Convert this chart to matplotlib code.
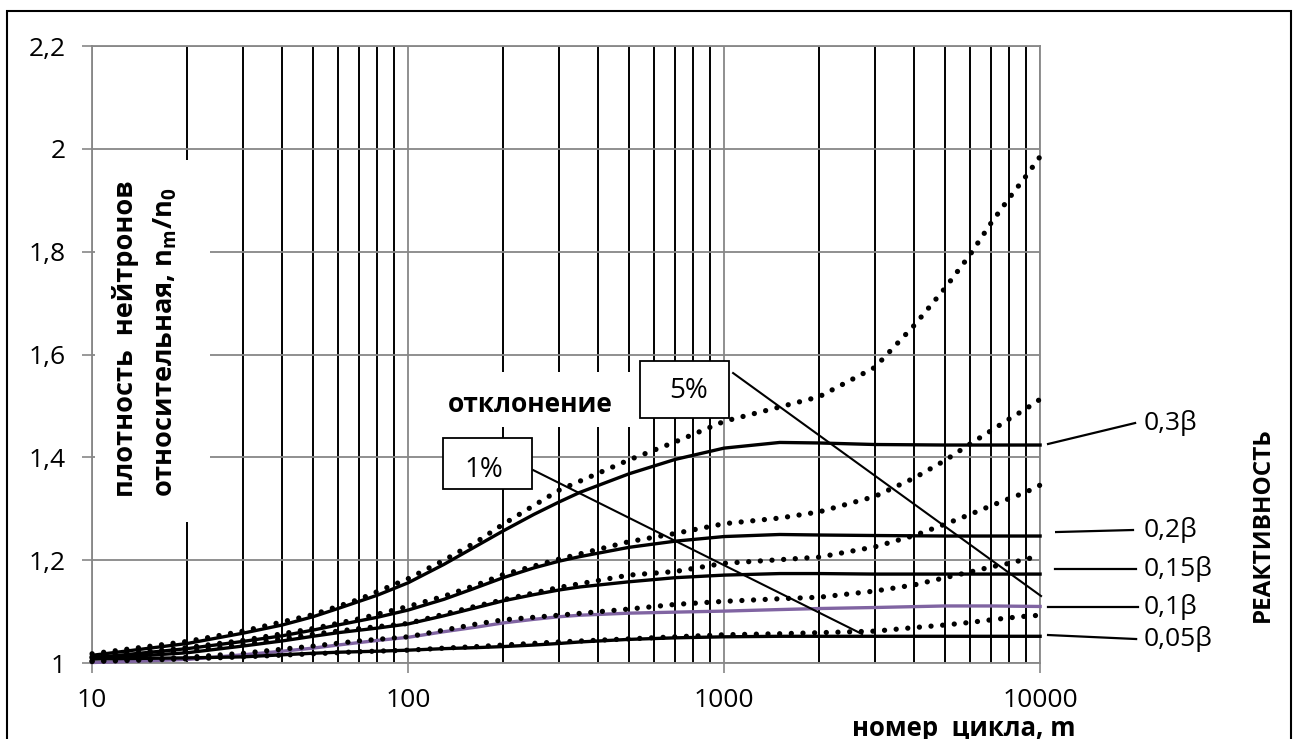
import matplotlib.pyplot as plt
from matplotlib.patches import Rectangle
from matplotlib.ticker import FixedLocator, FixedFormatter, NullFormatter

plt.rcParams['font.family'] = ['Open Sans', 'DejaVu Sans']
plt.rcParams['mathtext.fontset'] = 'custom'
plt.rcParams['mathtext.rm'] = 'Open Sans:bold'
plt.rcParams['mathtext.it'] = 'Open Sans:bold'

# values
cycles_solid = [10, 20, 30, 40, 50, 60, 80, 100, 130, 165, 200, 250, 300, 350, 500, 700,
                1000, 1500, 2000, 3000, 5000, 7000, 10000]
solid_03 = [1.015, 1.038, 1.058, 1.074, 1.090, 1.106, 1.132, 1.156, 1.192, 1.228, 1.257, 1.289,
            1.313, 1.332, 1.368, 1.396, 1.418, 1.429, 1.428, 1.425, 1.424, 1.424, 1.424]
solid_02 = [1.010, 1.028, 1.042, 1.053, 1.064, 1.074, 1.089, 1.103, 1.124, 1.147, 1.166, 1.185,
            1.198, 1.207, 1.225, 1.237, 1.246, 1.250, 1.249, 1.248, 1.247, 1.247, 1.247]
solid_015 = [1.008, 1.020, 1.033, 1.043, 1.052, 1.059, 1.068, 1.076, 1.092, 1.108, 1.121, 1.133,
             1.142, 1.148, 1.158, 1.166, 1.171, 1.174, 1.174, 1.173, 1.173, 1.173, 1.173]
solid_01 = [1.001, 1.007, 1.016, 1.023, 1.029, 1.035, 1.044, 1.050, 1.061, 1.070, 1.078, 1.085,
            1.090, 1.093, 1.097, 1.099, 1.101, 1.104, 1.106, 1.108, 1.111, 1.111, 1.110]
solid_005 = [1.008, 1.010, 1.012, 1.016, 1.019, 1.021, 1.023, 1.025, 1.028, 1.030, 1.032, 1.035,
             1.038, 1.041, 1.046, 1.049, 1.051, 1.052, 1.052, 1.052, 1.052, 1.052, 1.052]

cycles_dot = [10, 20, 30, 50, 70, 100, 130, 165, 200, 300, 500, 700, 1000, 1500, 2000, 3000,
              4000, 5000, 6000, 7000, 8000, 9000, 10000]
dot_03 = [1.018, 1.042, 1.062, 1.094, 1.124, 1.164, 1.200, 1.236, 1.270, 1.336, 1.395, 1.430,
          1.470, 1.498, 1.518, 1.575, 1.657, 1.729, 1.794, 1.856, 1.905, 1.946, 1.985]
dot_02 = [1.012, 1.030, 1.044, 1.067, 1.086, 1.110, 1.130, 1.152, 1.172, 1.202, 1.236, 1.252,
          1.271, 1.282, 1.294, 1.324, 1.360, 1.394, 1.426, 1.452, 1.475, 1.494, 1.513]
dot_015 = [1.010, 1.023, 1.036, 1.056, 1.067, 1.077, 1.095, 1.111, 1.123, 1.147, 1.171, 1.178,
           1.194, 1.201, 1.206, 1.226, 1.248, 1.270, 1.289, 1.306, 1.320, 1.332, 1.346]
dot_01 = [1.004, 1.011, 1.019, 1.033, 1.043, 1.051, 1.064, 1.076, 1.084, 1.093, 1.105, 1.114,
          1.120, 1.125, 1.128, 1.140, 1.152, 1.166, 1.177, 1.187, 1.194, 1.202, 1.208]
dot_005 = [1.003, 1.008, 1.012, 1.018, 1.022, 1.025, 1.029, 1.032, 1.035, 1.041, 1.047, 1.051,
           1.055, 1.057, 1.059, 1.062, 1.069, 1.074, 1.079, 1.084, 1.088, 1.091, 1.093]

x_ticks = [10, 100, 1000, 10000]
x_tick_labels = ['10', '100', '1000', '10000']
y_ticks = [1.0, 1.2, 1.4, 1.6, 1.8, 2.0, 2.2]
y_tick_labels = ['1', '1,2', '1,4', '1,6', '1,8', '2', '2,2']
minor_x = [m * d for d in (10, 100, 1000) for m in range(2, 10)]

react_labels = ['0,3β', '0,2β', '0,15β', '0,1β', '0,05β']

GRAY = '#878787'
PURPLE = '#8064a2'

fig = plt.figure(figsize=(12.93, 7.39), dpi=100)
ax = fig.add_axes([0.0712, 0.1028, 0.7332, 0.8349])
ax.set_xscale('log')
ax.set_xlim(10, 10000)
ax.set_ylim(1.0, 2.2)

ax.xaxis.set_major_locator(FixedLocator(x_ticks))
ax.xaxis.set_major_formatter(FixedFormatter(x_tick_labels))
ax.xaxis.set_minor_locator(FixedLocator(minor_x))
ax.xaxis.set_minor_formatter(NullFormatter())
ax.yaxis.set_major_locator(FixedLocator(y_ticks))
ax.yaxis.set_major_formatter(FixedFormatter(y_tick_labels))

ax.tick_params(which='major', direction='out', length=7, width=1.2, color=GRAY,
               labelsize=19, pad=12)
ax.tick_params(axis='x', which='major', pad=11)
ax.tick_params(which='minor', length=0)
ax.set_axisbelow(True)
ax.grid(which='major', color=GRAY, lw=1.3)
ax.grid(which='minor', axis='x', color='black', lw=1.4)
for sp in ax.spines.values():
    sp.set_color(GRAY)
    sp.set_linewidth(1.3)

# solid curves
for vals, col in [(solid_03, 'black'), (solid_02, 'black'), (solid_015, 'black'),
                  (solid_01, PURPLE), (solid_005, 'black')]:
    ax.plot(cycles_solid, vals, color=col, lw=2.4, zorder=3, clip_on=False)

# dotted curves
for vals in [dot_03, dot_02, dot_015, dot_01, dot_005]:
    ax.plot(cycles_dot, vals, color='black', lw=3.8, ls=(0, (0.01, 2.2)),
            dash_capstyle='round', zorder=4, clip_on=False)

# white areas under the texts inside the plot
ax.add_patch(Rectangle((0.003, 0.2285), 0.1215, 0.5866, transform=ax.transAxes,
                       fc='white', ec='none', zorder=1))
ax.add_patch(Rectangle((0.3565, 0.3825), 0.2215, 0.0891, transform=ax.transAxes,
                       fc='white', ec='none', zorder=1))

ax.text(0.0348, 0.269, 'плотность  нейтронов', rotation=90, transform=ax.transAxes,
        ha='center', va='bottom', fontsize=19.5, fontweight='bold', zorder=5)
ax.text(0.077, 0.269, r'относительная, $\mathrm{n_m/n_0}$', rotation=90,
        transform=ax.transAxes, ha='center', va='bottom', fontsize=19.5,
        fontweight='bold', zorder=5)
ax.text(0.462, 0.4198, 'отклонение', transform=ax.transAxes, ha='center',
        va='center', fontsize=19, fontweight='bold', zorder=5)

# deviation boxes
ax.add_patch(Rectangle((0.3703, 0.282), 0.0938, 0.0827, transform=ax.transAxes,
                       fc='white', ec='black', lw=1.3, zorder=5))
ax.text(0.4135, 0.3128, '1%', transform=ax.transAxes, ha='center', va='center',
        fontsize=20, zorder=6)
ax.plot([0.4652, 0.8122], [0.3128, 0.047], transform=ax.transAxes, color='black',
        lw=1.5, zorder=5)
ax.add_patch(Rectangle((0.578, 0.397), 0.094, 0.0925, transform=ax.transAxes,
                       fc='white', ec='black', lw=1.3, zorder=5))
ax.text(0.6287, 0.4408, '5%', transform=ax.transAxes, ha='center', va='center',
        fontsize=20, zorder=6)
ax.plot([0.6762, 1.001], [0.470, 0.1086], transform=ax.transAxes, color='black',
        lw=1.5, zorder=5, clip_on=False)

# reactivity labels on the right
leaders = [((1.0084, 0.355), (1.1002, 0.389)),
           ((1.0169, 0.2123), (1.098, 0.2156)),
           ((1.0158, 0.1524), (1.1013, 0.1524)),
           ((1.0084, 0.0908), (1.1034, 0.0908)),
           ((1.0084, 0.0454), (1.1013, 0.0389))]
for lab, (p0, p1) in zip(react_labels, leaders):
    ax.plot([p0[0], p1[0]], [p0[1], p1[1]], transform=ax.transAxes, color='black',
            lw=1.6, clip_on=False)
    ax.text(1.109, p1[1], lab, transform=ax.transAxes, ha='left', va='center',
            fontsize=19)

ax.text(1.2352, 0.2237, 'РЕАКТИВНОСТЬ', rotation=90, transform=ax.transAxes,
        ha='center', va='center', fontsize=17.5, fontweight='bold')
ax.text(1.037, -0.106, 'номер  цикла, m', transform=ax.transAxes, ha='right',
        va='center', fontsize=18.5, fontweight='bold')

# outer frame
fig.patches.append(Rectangle((7 / 1293, -0.05), 1284 / 1293, (728 / 739) + 0.05,
                             transform=fig.transFigure, fill=False, ec='black', lw=1.5))

fig.savefig('out.png', dpi=100)
